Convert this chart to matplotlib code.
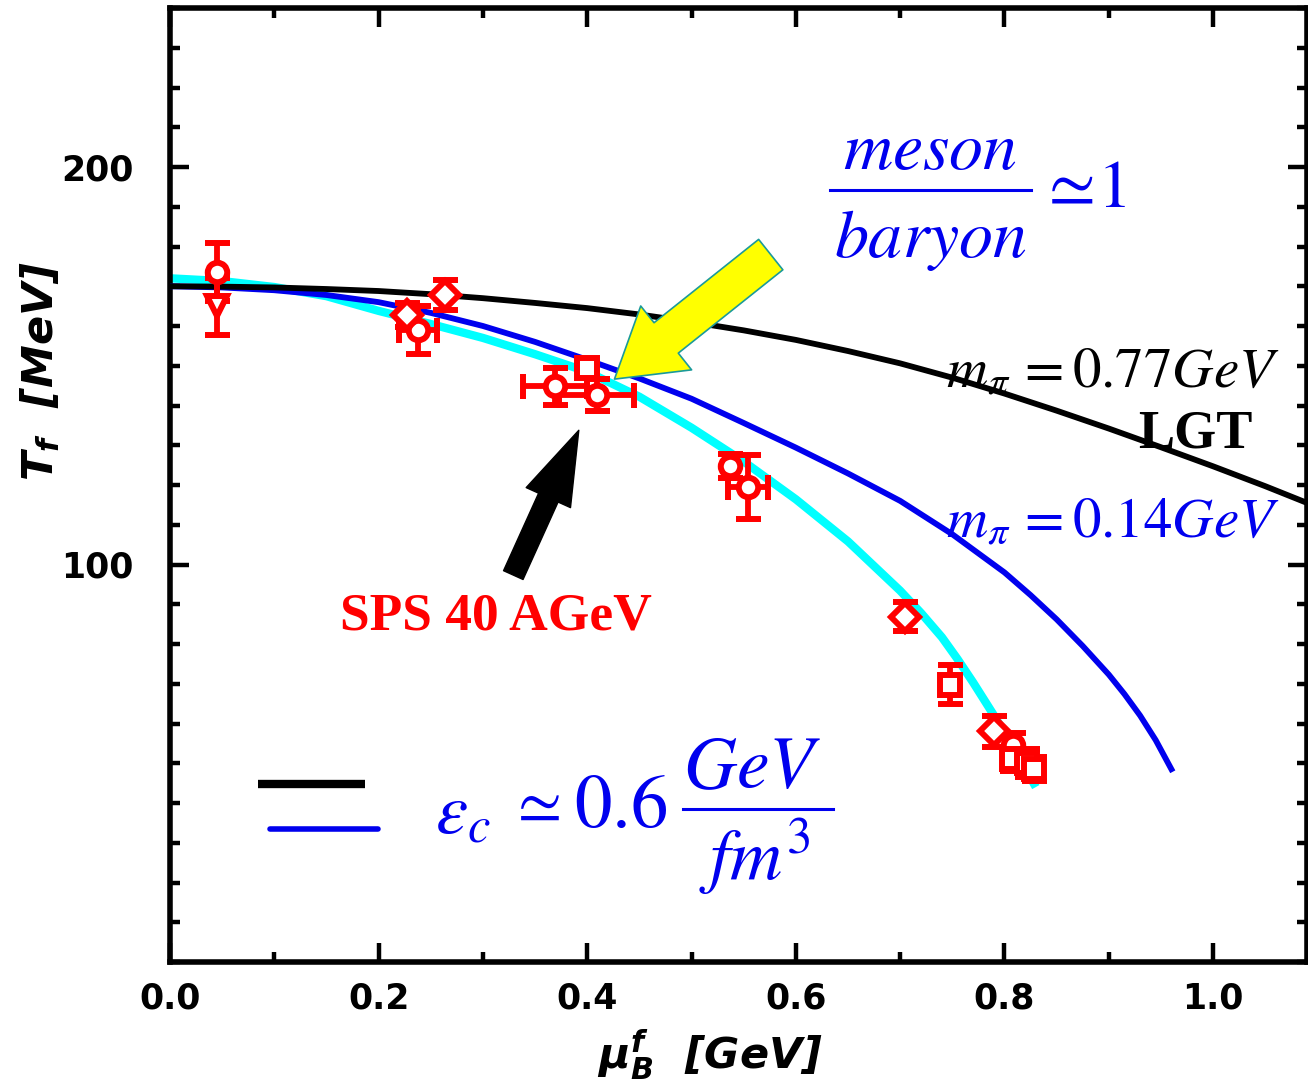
import matplotlib
matplotlib.use("Agg")
import matplotlib.pyplot as plt
from matplotlib.patches import FancyArrowPatch
from matplotlib.ticker import MultipleLocator, FixedLocator, FormatStrFormatter

# freeze-out curves: lattice (m_pi = 0.77 GeV), rescaled (m_pi = 0.14 GeV), eps_c = 0.6 GeV/fm^3
mu_lgt = [0.0, 0.05, 0.1, 0.15, 0.2, 0.25, 0.3, 0.35, 0.4, 0.45, 0.5, 0.55,
          0.6, 0.65, 0.7, 0.75, 0.8, 0.85, 0.9, 0.95, 1.0, 1.05, 1.09]
T_lgt = [170.0, 169.9, 169.7, 169.3, 168.8, 168.0, 167.0, 165.8, 164.5, 162.9, 161.0, 158.9,
         156.5, 153.7, 150.6, 147.0, 143.0, 138.7, 134.2, 129.5, 124.7, 119.7, 115.5]

mu_mpi = [0.0, 0.05, 0.1, 0.15, 0.2, 0.25, 0.3, 0.35, 0.4, 0.45, 0.5, 0.55,
          0.6, 0.65, 0.7, 0.75, 0.8, 0.825, 0.85, 0.875, 0.9, 0.915, 0.93, 0.945, 0.96]
T_mpi = [170.0, 169.7, 169.0, 167.8, 166.0, 163.3, 160.0, 156.0, 151.5, 146.8, 141.7, 135.6,
         129.4, 122.9, 116.0, 107.6, 98.0, 92.3, 86.2, 79.5, 72.3, 67.4, 62.0, 55.8, 48.5]

mu_ec = [0.0, 0.05, 0.1, 0.15, 0.2, 0.25, 0.3, 0.35, 0.4, 0.45, 0.5, 0.55,
         0.6, 0.65, 0.7, 0.72, 0.74, 0.755, 0.77, 0.79, 0.81, 0.83]
T_ec = [172.0, 171.3, 169.8, 167.5, 163.8, 160.5, 157.0, 152.9, 148.5, 142.2, 134.4, 125.9,
        116.4, 105.8, 93.4, 87.8, 81.7, 76.2, 70.3, 62.0, 53.3, 44.0]

# freeze-out points from particle ratios
mu_circ = [0.045, 0.238, 0.369, 0.409, 0.537, 0.554, 0.808]
T_circ = [173.6, 159.0, 144.8, 142.7, 124.7, 119.5, 54.5]
dT_circ = [7.3, 6.0, 4.7, 4.0, 3.0, 8.0, 3.0]
dmu_circ = [0.0, 0.018, 0.031, 0.036, 0.0, 0.019, 0.0]

mu_tri = [0.045]
T_tri = [165.0]
dT_tri = [7.2]

mu_dia = [0.227, 0.264, 0.705, 0.79]
T_dia = [162.8, 167.8, 86.9, 58.0]
dT_dia = [3.0, 3.8, 3.6, 4.0]

mu_sq = [0.40, 0.748, 0.807, 0.822, 0.828]
T_sq = [149.5, 69.8, 51.0, 50.0, 48.5]
dT_sq = [1.3, 5.0, 3.0, 3.5, 3.0]

BLUE = "#0000ee"
RED = "#ff0000"

fig = plt.figure(figsize=(13.08, 10.9), dpi=100)
ax = fig.add_axes([170 / 1308, 128 / 1090, 1137 / 1308, 954 / 1090])

ax.plot(mu_ec, T_ec, color="#00ffff", lw=6, solid_capstyle="butt", zorder=2)
ax.plot(mu_mpi, T_mpi, color=BLUE, lw=4.2, zorder=3)
ax.plot(mu_lgt, T_lgt, color="black", lw=4.2, zorder=4)

eb = dict(ls="none", color=RED, mfc="white", mec=RED, mew=4.3, ms=14,
          elinewidth=4.2, capsize=9, capthick=4.2, zorder=6)
ax.errorbar(mu_circ, T_circ, yerr=dT_circ, xerr=dmu_circ, marker="o", **eb)
ax.errorbar(mu_tri, T_tri, yerr=dT_tri, marker="v", **eb)
ax.errorbar(mu_dia, T_dia, yerr=dT_dia, marker="D", **eb)
ax.errorbar(mu_sq, T_sq, yerr=dT_sq, marker="s", **eb)

# arrows
yellow = FancyArrowPatch((0.578, 178.4), (0.424, 146.2),
                         arrowstyle="simple,head_width=4.2,head_length=3.4,tail_width=2.0",
                         mutation_scale=14, fc="#ffff00", ec="#1a9a9a", lw=1.2, zorder=7)
ax.add_patch(yellow)
black = FancyArrowPatch((0.328, 96.7), (0.393, 134.4),
                        arrowstyle="simple,head_width=2.5,head_length=3.8,tail_width=1.1",
                        mutation_scale=14, fc="black", ec="black", lw=1, zorder=7)
ax.add_patch(black)

# annotations
serif = dict(math_fontfamily="stix", zorder=8)
ax.text(0.729, 204.3, r"$meson$", color=BLUE, fontsize=49, ha="center", va="center", **serif)
ax.plot([0.633, 0.825], [194.2, 194.2], color=BLUE, lw=2.2)
ax.text(0.729, 181.7, r"$baryon$", color=BLUE, fontsize=49, ha="center", va="center", **serif)
ax.text(0.833, 194.7, r"$\simeq\! 1$", color=BLUE, fontsize=49, ha="left", va="center", **serif)

ax.text(0.744, 148.5, r"$m_{\pi}\,=0.77GeV$", color="black", fontsize=41,
        ha="left", va="center", **serif)
ax.text(0.983, 132.7, "LGT", color="black", fontsize=39, fontweight="bold",
        family="Liberation Serif", ha="center", va="center", zorder=8)
ax.text(0.744, 110.8, r"$m_{\pi}\,=0.14GeV$", color=BLUE, fontsize=41,
        ha="left", va="center", **serif)
ax.text(0.312, 86.9, "SPS 40 AGeV", color=RED, fontsize=38.5, fontweight="bold",
        family="Liberation Serif", ha="center", va="center", zorder=8)

ax.plot([0.084, 0.187], [44.7, 44.7], color="black", lw=6, solid_capstyle="butt")
ax.plot([0.096, 0.199], [33.4, 33.4], color=BLUE, lw=4, solid_capstyle="round")
ax.text(0.254, 37.5, r"$\varepsilon_{c}$", color=BLUE, fontsize=52,
        ha="left", va="center", **serif)
ax.text(0.349, 39.5, r"$\simeq$", color=BLUE, fontsize=46,
        ha="center", va="center", **serif)
ax.text(0.387, 39.0, r"$0.6$", color=BLUE, fontsize=54,
        ha="left", va="center", **serif)
ax.text(0.558, 49.0, r"$GeV$", color=BLUE, fontsize=53, ha="center", va="center", **serif)
ax.plot([0.492, 0.636], [38.4, 38.4], color=BLUE, lw=2.2)
ax.text(0.56, 26.4, r"$fm^{3}$", color=BLUE, fontsize=52, ha="center", va="center", **serif)

# axes
ax.set_xlim(0, 1.09)
ax.set_ylim(0, 240)
ax.xaxis.set_major_locator(MultipleLocator(0.2))
ax.xaxis.set_minor_locator(MultipleLocator(0.1))
ax.yaxis.set_major_locator(FixedLocator([100, 200]))
ax.yaxis.set_minor_locator(MultipleLocator(10))
ax.xaxis.set_major_formatter(FormatStrFormatter("%.1f"))
ax.tick_params(which="both", direction="in", top=True, right=True, width=3.2)
ax.tick_params(which="major", length=14)
ax.tick_params(which="minor", length=7)
ax.tick_params(axis="x", pad=14)
ax.tick_params(axis="y", pad=26)
for s in ax.spines.values():
    s.set_linewidth(4)
for lab in ax.get_xticklabels() + ax.get_yticklabels():
    lab.set_fontsize(25)
    lab.set_fontweight("bold")

ax.set_ylabel(r"$\mathbfit{T}_{\mathbfit{f}}$  [MeV]", fontsize=31, fontweight="bold",
              style="italic")
ax.yaxis.set_label_coords(-0.095, 0.62)
ax.set_xlabel(r"$\mathbfit{\mu}_{\mathbfit{B}}^{\mathbfit{f}}$  [GeV]", fontsize=31,
              fontweight="bold", style="italic")
ax.xaxis.set_label_coords(0.475, -0.068)

fig.savefig("out.png", dpi=100)
